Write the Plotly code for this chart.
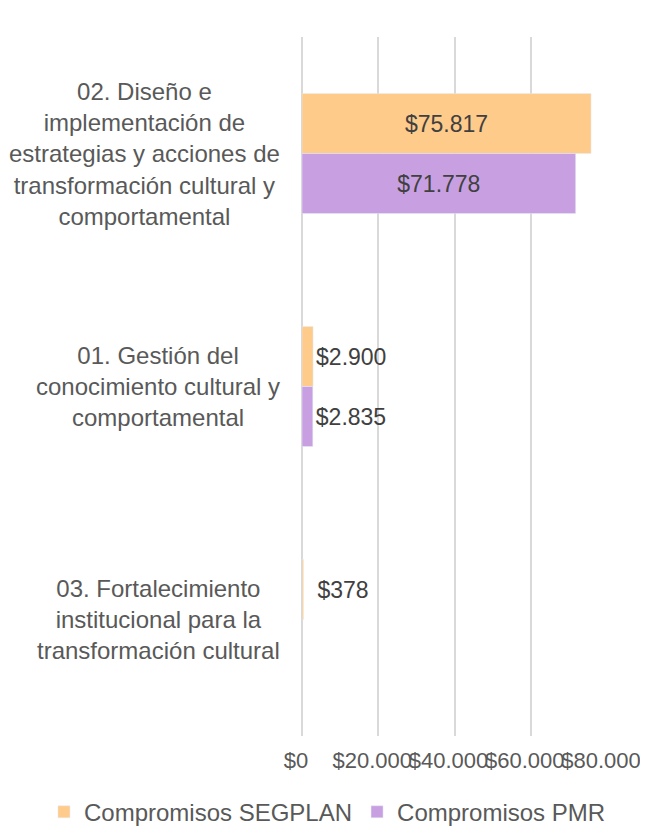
import plotly.graph_objects as go

# categories, top to bottom as in the reference
categorias = [
    "02. Diseño e<br>implementación de<br>estrategias y acciones de<br>transformación cultural y<br>comportamental",
    "01. Gestión del<br>conocimiento cultural y<br>comportamental",
    "03. Fortalecimiento<br>institucional para la<br>transformación cultural",
]
segplan = [75817, 2900, 378]
pmr = [71778, 2835, None]

eje_ticks = [0, 20000, 40000, 60000, 80000]

gris = "#595959"
fuente = "Liberation Sans, Arial, sans-serif"

etiqueta = "$%{x:,.0f}"
# the tiny 03 bar gets its label pushed a bit further out, like the original
etiquetas_segplan = [etiqueta, etiqueta, "\u00a0\u2009" + etiqueta]

fig = go.Figure()

fig.add_trace(go.Bar(
    y=categorias, x=segplan, orientation="h",
    name="Compromisos SEGPLAN",
    marker=dict(color="#FECB8B"),
    texttemplate=etiquetas_segplan,
    textposition="auto",
    insidetextanchor="middle",
    textfont=dict(color="#404040", size=23, family=fuente),
    cliponaxis=False,
))
fig.add_trace(go.Bar(
    y=categorias, x=pmr, orientation="h",
    name="Compromisos PMR",
    marker=dict(color="#C8A0E1"),
    texttemplate=etiqueta,
    textposition="auto",
    insidetextanchor="middle",
    textfont=dict(color="#404040", size=23, family=fuente),
    cliponaxis=False,
))

# category labels as centered annotations
for txt in categorias:
    fig.add_annotation(
        x=0, xref="paper", y=txt, yref="y",
        text=txt, showarrow=False,
        xanchor="right", xshift=-20, align="center",
        font=dict(size=24, color=gris, family=fuente),
    )

# page body has an 8px margin, so the figure is 8px smaller each way
fig.update_layout(
    width=640, height=819,
    margin=dict(l=294, r=41, t=29, b=91, autoexpand=False),
    barmode="group",
    bargap=0.485,
    bargroupgap=0,
    separators=",.",
    plot_bgcolor="white",
    paper_bgcolor="white",
    font=dict(family=fuente, color=gris, size=23),
    showlegend=True,
    legend=dict(
        orientation="h",
        x=-0.846, y=-0.109, xanchor="left", yanchor="middle",
        font=dict(size=24, color=gris),
        itemwidth=30,
    ),
    xaxis=dict(
        range=[0, 80000],
        tickvals=eje_ticks,
        tickformat="$,.0f",
        tickangle=0,
        automargin=False,
        ticklabeloverflow="allow",
        ticklabelshift=-6,
        showgrid=True, gridcolor="#D9D9D9", gridwidth=2,
        zeroline=True, zerolinecolor="#D9D9D9", zerolinewidth=2,
        showline=False,
        ticklabelstandoff=9,
        tickfont=dict(size=22, color=gris),
    ),
    yaxis=dict(
        type="category",
        categoryorder="array", categoryarray=categorias,
        autorange="reversed",
        automargin=False,
        showticklabels=False,
        showgrid=False, zeroline=False, showline=False,
    ),
)

fig.write_html("out.html")
